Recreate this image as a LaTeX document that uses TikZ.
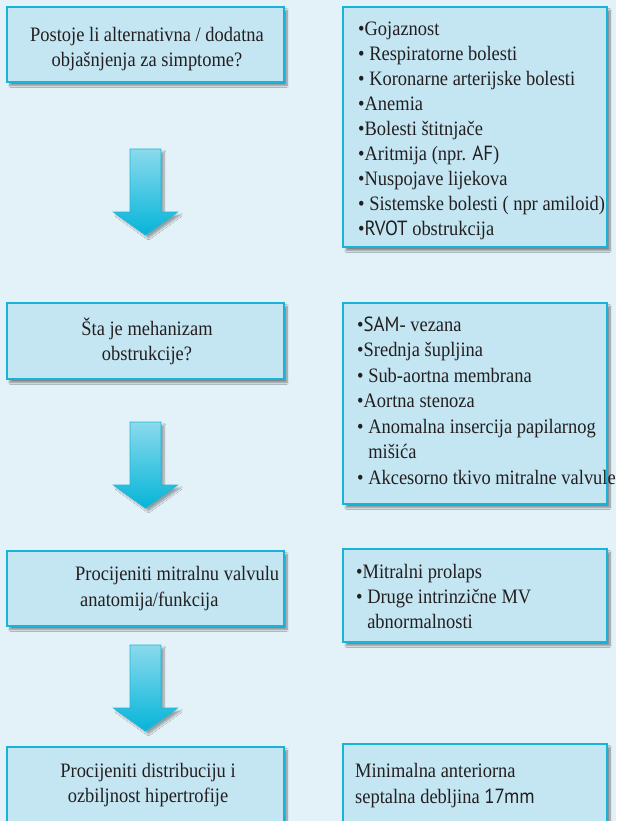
\documentclass[tikz,border=0pt]{standalone}
\usepackage{fontspec}
\setmainfont[FakeStretch=0.9]{Liberation Serif}
\newfontfamily\gill[FakeStretch=0.92]{PT Sans}
\usetikzlibrary{shadows.blur}

\definecolor{bgcol}{HTML}{E3F2F9}
\definecolor{boxfill}{HTML}{C4E6F3}
\definecolor{boxline}{HTML}{19B3D7}
\definecolor{arrtop}{HTML}{8ADAEC}
\definecolor{arrbot}{HTML}{05B5D9}
\definecolor{arrline}{HTML}{1EB6D9}
\definecolor{ink}{HTML}{231F20}

\tikzset{
  panel/.style={draw=boxline, line width=1.3pt, fill=boxfill, inner sep=0pt,
    blur shadow={shadow xshift=3pt, shadow yshift=-3.5pt, shadow opacity=45,
      shadow blur steps=8}},
  leftpanel/.style={panel, minimum width=277, minimum height=75},
  rightpanel/.style={panel, minimum width=264},
  txt/.style={inner sep=0pt, text=ink, font=\fontsize{20.5}{25}\selectfont},
  downarrow/.style={draw=arrline, line width=0.8pt, top color=arrtop,
    bottom color=arrbot,
    blur shadow={shadow xshift=3pt, shadow yshift=-3pt, shadow opacity=35,
      shadow blur steps=8}},
  pics/blockdown/.style={code={
    \path[downarrow] (-15.5,0) -- (15.5,0) -- (15.5,63) -- (32,63) -- (0,86)
      -- (-32,63) -- (-15.5,63) -- cycle;}}
}

\begin{document}
\begin{tikzpicture}[x=1pt, y=-1pt]
  % page and background
  \fill[bgcol] (0,0) rectangle (616,821);
  \useasboundingbox (0,0) rectangle (616,821);

  % left column: questions
  \node[leftpanel] (q1) at (145.5,44.5) {};
  \node[leftpanel, minimum height=76] (q2) at (145.5,341) {};
  \node[leftpanel] (q3) at (145.5,588.5) {};
  \node[leftpanel] (q4) at (145.5,784.5) {};

  % right column: answers
  \node[rightpanel, minimum height=240] (a1) at (475,127) {};
  \node[rightpanel, minimum height=201] (a2) at (475,403.5) {};
  \node[rightpanel, minimum height=93] (a3) at (475,595.5) {};
  \node[rightpanel, minimum height=80] (a4) at (475,784) {};

  % block arrows between the questions
  \pic at (145.5,149) {blockdown};
  \pic at (145.5,422) {blockdown};
  \pic at (145.5,645) {blockdown};

  % question texts
  \node[txt, align=center] (t1) at (147,49.5)
    {Postoje li alternativna / dodatna\\objašnjenja za simptome?};
  \node[txt, align=center] (t2) at (147,341)
    {Šta je mehanizam\\obstrukcije?};
  \node[txt, align=left, anchor=west, font=\fontsize{20.5}{26.5}\selectfont] (t3) at (75,588.5)
    {Procijeniti mitralnu valvulu\\\hspace*{5pt}anatomija/funkcija};
  \node[txt, align=center] (t4) at (148,785)
    {Procijeniti distribuciju i\\ozbiljnost hipertrofije};

  % answer texts
  \node[txt, align=left, anchor=north west] (l1) at (358,22)
    {•Gojaznost\\
     • Respiratorne bolesti\\
     • Koronarne arterijske bolesti\\
     •Anemia\\
     •Bolesti štitnjače\\
     •Aritmija (npr. {\gill AF})\\
     •Nuspojave lijekova\\
     • Sistemske bolesti ( npr amiloid)\\
     •{\gill RVOT} obstrukcija};
  \node[txt, align=left, anchor=north west, font=\fontsize{20.5}{25.5}\selectfont] (l2) at (357,316.5)
    {•{\gill SAM}- vezana\\
     •Srednja šupljina\\
     • Sub-aortna membrana\\
     •Aortna stenoza\\
     • Anomalna insercija papilarnog\\
     \phantom{• }mišića\\
     • Akcesorno tkivo mitralne valvule};
  \node[txt, align=left, anchor=north west] (l3) at (356,564.5)
    {•Mitralni prolaps\\
     • Druge intrinzične MV\\
     \phantom{• }abnormalnosti};
  \node[txt, align=left, anchor=north west, font=\fontsize{20.5}{26}\selectfont] (l4) at (355,763.5)
    {Minimalna anteriorna\\
     septalna debljina {\gill 17mm}};
\end{tikzpicture}
\end{document}
